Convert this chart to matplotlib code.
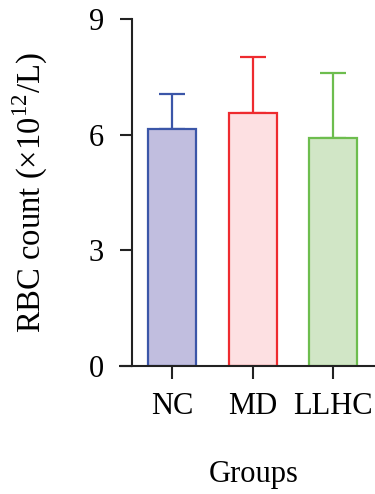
import numpy as np
from matplotlib import pyplot as plt

# data
groups = ['NC', 'MD', 'LLHC']
means = [6.15, 6.55, 5.92]
sds = [0.91, 1.46, 1.67]
edge_colors = ['#3b56a8', '#ee2b2f', '#6dbd4e']
fill_colors = ['#c1bedf', '#fde0e2', '#d1e6c6']

plt.rcParams['font.family'] = ['Liberation Serif', 'DejaVu Serif']
plt.rcParams['mathtext.fontset'] = 'custom'
plt.rcParams['mathtext.rm'] = 'Liberation Serif'

fig = plt.figure(figsize=(3.75, 4.94), dpi=100, facecolor='w')
ax = fig.add_axes([0.352, 0.259, 0.648, 0.7025])

x = np.arange(len(groups))
ax.bar(x, means, width=0.6, color=fill_colors, edgecolor=edge_colors,
       linewidth=1.6, zorder=2)
for xi, m, s, c in zip(x, means, sds, edge_colors):
    ax.errorbar(xi, m, yerr=[[0], [s]], fmt='none', ecolor=c,
                elinewidth=1.6, capsize=9.5, capthick=1.6, zorder=1)

ax.set_xlim(-0.5, 2.52)
ax.set_ylim(0, 9)
ax.set_yticks([0, 3, 6, 9])
ax.set_xticks(x)
ax.set_xticklabels(groups)

for side in ['top', 'right']:
    ax.spines[side].set_visible(False)
for side in ['left', 'bottom']:
    ax.spines[side].set_linewidth(1.5)
    ax.spines[side].set_color('#222222')

# x axis line runs a bit left of the y axis
ax.plot([-0.66, -0.5], [0, 0], color='#222222', lw=1.5, clip_on=False,
        solid_capstyle='butt')

ax.tick_params(axis='both', length=9, width=1.5, color='#222222',
               labelsize=22)
ax.tick_params(axis='y', pad=11)
ax.tick_params(axis='x', pad=10)

ax.set_ylabel('RBC count (×10$^{12}$/L)', fontsize=23.5, labelpad=28)
ax.set_xlabel('Groups', fontsize=22, labelpad=28)

plt.savefig('out.png', dpi=100, facecolor='w')
